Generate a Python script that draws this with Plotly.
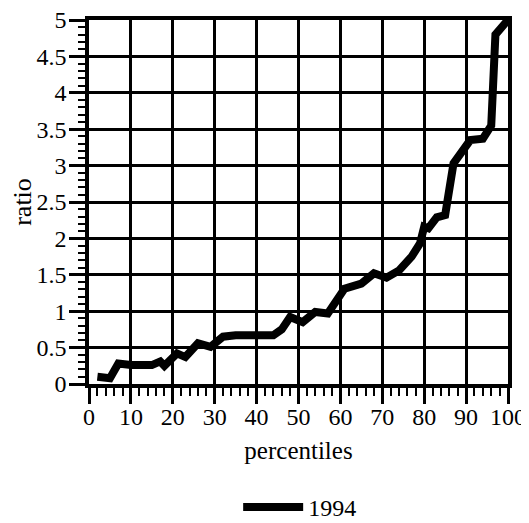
import plotly.graph_objects as go

percentiles = [2, 4, 5, 7, 10, 15, 17, 18, 21, 23, 26, 29, 32, 35, 44, 46, 48, 51, 54, 57,
               61, 65, 68, 71, 74, 77, 79, 80, 81, 83, 85, 87, 89, 91, 94, 96, 97, 100]
ratio_1994 = [0.10, 0.10, 0.08, 0.28, 0.26, 0.26, 0.31, 0.25, 0.42, 0.37, 0.56, 0.51, 0.65, 0.67,
              0.67, 0.75, 0.92, 0.85, 0.99, 0.97, 1.31, 1.38, 1.52, 1.46, 1.56, 1.75, 1.93, 2.16,
              2.14, 2.29, 2.32, 3.03, 3.21, 3.35, 3.37, 3.55, 4.80, 5.00]
series_name = "1994"
x_tickvals = list(range(0, 101, 10))
y_tickvals = [0, 0.5, 1, 1.5, 2, 2.5, 3, 3.5, 4, 4.5, 5]
y_ticktext = ["0", "0.5", "1", "1.5", "2", "2.5", "3", "3.5", "4", "4.5", "5"]

FONT = "Liberation Serif"

fig = go.Figure()
fig.add_trace(go.Scatter(
    x=percentiles, y=ratio_1994, mode="lines", name=series_name,
    line=dict(color="black", width=8), cliponaxis=False,
))

# page body has an 8px default margin, so the figure is 8px smaller than the window
fig.update_layout(
    width=521, height=515,
    margin=dict(l=81, r=21, t=12, b=139, autoexpand=False),
    paper_bgcolor="white", plot_bgcolor="white",
    font=dict(family=FONT, size=24, color="black"),
    showlegend=True,
    legend=dict(orientation="h", x=0.356, xanchor="left", y=-0.277, yanchor="top",
                itemwidth=60, font=dict(family=FONT, size=24), bgcolor="rgba(0,0,0,0)"),
)
fig.update_xaxes(
    range=[0, 100], tickvals=x_tickvals, ticks="outside", ticklen=16, tickwidth=3,
    tickcolor="black", showline=True, linewidth=3.5, linecolor="black", mirror=True,
    showgrid=True, gridcolor="black", gridwidth=2.5, zeroline=False, automargin=True,
    ticklabelstandoff=-8, ticklabeloverflow="allow",
    minor=dict(dtick=2, ticks="outside", ticklen=8, tickwidth=2, tickcolor="black", showgrid=False),
    title=dict(text="percentiles", standoff=14, font=dict(family=FONT, size=25)),
    tickfont=dict(family=FONT, size=24),
)
fig.update_yaxes(
    range=[0, 5], tickvals=y_tickvals, ticktext=y_ticktext, ticks="outside", ticklen=16, tickwidth=3,
    tickcolor="black", showline=True, linewidth=3.5, linecolor="black", mirror=True,
    showgrid=True, gridcolor="black", gridwidth=2.5, zeroline=False, automargin=True,
    ticklabelstandoff=-2, ticklabeloverflow="allow",
    minor=dict(dtick=0.1, ticks="outside", ticklen=7, tickwidth=2, tickcolor="black", showgrid=False),
    title=dict(text="ratio", standoff=8, font=dict(family=FONT, size=26)),
    tickfont=dict(family=FONT, size=24),
)

fig.write_html("out.html")
